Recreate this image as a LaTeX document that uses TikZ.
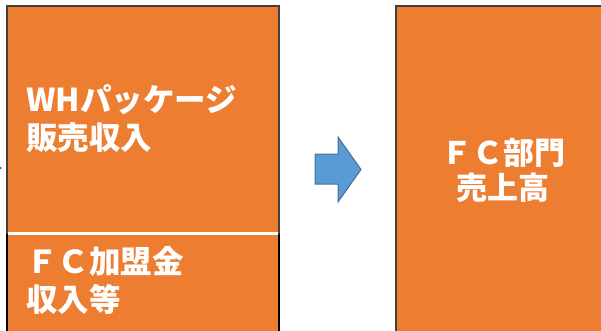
\documentclass[tikz,border=0pt]{standalone}
\usepackage{fontspec}
\newfontfamily\cjk{Noto Sans CJK JP}
\definecolor{boxorange}{HTML}{ED7D31}
\definecolor{boxedge}{HTML}{404040}
\definecolor{arrowblue}{HTML}{5B9BD5}
\definecolor{arrowedge}{HTML}{41719C}
\tikzset{
  lbl/.style={text=white, font=\cjk\bfseries\fontsize{31.5}{38}\selectfont, inner sep=0pt, align=left},
  clbl/.style={text=white, font=\cjk\bfseries\fontsize{31}{35}\selectfont, inner sep=0pt, align=center},
  block/.style={fill=boxorange, draw=boxedge, line width=2pt}
}
\begin{document}
\begin{tikzpicture}[x=1pt,y=-1pt]
\useasboundingbox (0,0) rectangle (601,330);
% left block
\path[block] (7,6) rectangle (279,340);
\draw[black, line width=2pt] (7,234) -- (7,340) (279,234) -- (279,340);
\draw[white, line width=3pt] (8,233) -- (278,233);
% right block
\path[block] (396,6) rectangle (620,340);
% arrow
\draw[fill=arrowblue, draw=arrowedge, line width=1pt]
  (315,154) -- (338,154) -- (338,137) -- (361,169.5) -- (338,202) -- (338,184) -- (315,184) -- cycle;
% tiny fragment at left edge
\fill[arrowedge] (-2,165) -- (2,168) -- (-2,171) -- cycle;
% texts
\node[lbl, anchor=west] (t1) at (26,119) {WHパッケージ\\販売収入};
\node[lbl, anchor=west] (t2) at (26,280) {ＦＣ加盟金\\収入等};
\node[clbl] (t3) at (503,170) {ＦＣ部門\\売上高};
\end{tikzpicture}
\end{document}
